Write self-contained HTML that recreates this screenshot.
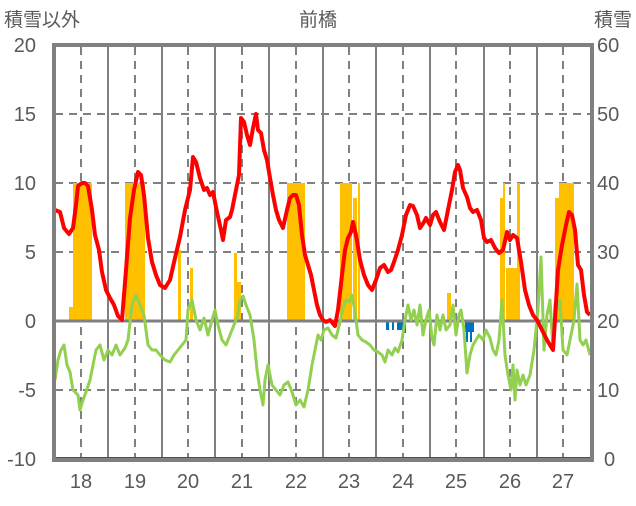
<!DOCTYPE html><html><head><meta charset="utf-8"><style>body{margin:0;background:#fff}svg text{font-family:"Liberation Sans","Noto Sans CJK JP",sans-serif;fill:#595959}</style></head><body>
<svg width="636" height="501" viewBox="0 0 636 501">
<g font-size="19">
<text x="4" y="26">積雪以外</text><text x="318" y="26" text-anchor="middle">前橋</text><text x="632" y="26" text-anchor="end">積雪</text>
</g>
<g font-size="20" text-anchor="end">
<text x="36" y="52">20</text><text x="36" y="121">15</text><text x="36" y="190">10</text><text x="36" y="259">5</text><text x="36" y="328">0</text><text x="36" y="397">-5</text><text x="36" y="466">-10</text>
</g>
<g font-size="20">
<text x="597" y="52">60</text><text x="597" y="121">50</text><text x="597" y="190">40</text><text x="597" y="259">30</text><text x="597" y="328">20</text><text x="597" y="397">10</text><text x="604" y="466">0</text>
</g>
<g font-size="20" text-anchor="middle">
<text x="81" y="488">18</text><text x="135" y="488">19</text><text x="188" y="488">20</text><text x="242" y="488">21</text><text x="296" y="488">22</text><text x="349" y="488">23</text><text x="403" y="488">24</text><text x="456" y="488">25</text><text x="510" y="488">26</text><text x="563" y="488">27</text>
</g>
<g stroke="#808080" stroke-width="2" stroke-dasharray="8,6">
<line x1="55" y1="114" x2="590" y2="114"/><line x1="55" y1="183" x2="590" y2="183"/><line x1="55" y1="252" x2="590" y2="252"/><line x1="55" y1="390" x2="590" y2="390"/>
<line x1="81" y1="47" x2="81" y2="458"/><line x1="135" y1="47" x2="135" y2="458"/><line x1="188" y1="47" x2="188" y2="458"/><line x1="242" y1="47" x2="242" y2="458"/><line x1="296" y1="47" x2="296" y2="458"/><line x1="349" y1="47" x2="349" y2="458"/><line x1="403" y1="47" x2="403" y2="458"/><line x1="456" y1="47" x2="456" y2="458"/><line x1="510" y1="47" x2="510" y2="458"/><line x1="563" y1="47" x2="563" y2="458"/>
</g>
<g stroke="#808080" stroke-width="2">
<line x1="108" y1="47" x2="108" y2="458"/><line x1="162" y1="47" x2="162" y2="458"/><line x1="215" y1="47" x2="215" y2="458"/><line x1="269" y1="47" x2="269" y2="458"/><line x1="323" y1="47" x2="323" y2="458"/><line x1="376" y1="47" x2="376" y2="458"/><line x1="430" y1="47" x2="430" y2="458"/><line x1="484" y1="47" x2="484" y2="458"/><line x1="537" y1="47" x2="537" y2="458"/>
</g>
<g fill="#FFC000">
<rect x="69" y="307" width="4" height="14"/><rect x="73" y="183" width="19" height="138"/>
<rect x="125" y="183" width="20" height="138"/><rect x="178" y="250" width="3" height="71"/><rect x="190" y="268" width="3" height="53"/>
<rect x="234" y="253" width="3" height="68"/><rect x="237" y="282" width="4" height="39"/>
<rect x="287" y="183" width="18" height="138"/><rect x="340" y="183" width="12" height="138"/><rect x="353" y="198" width="4" height="123"/><rect x="358" y="183" width="2" height="138"/>
<rect x="447" y="293" width="4" height="28"/><rect x="500" y="198" width="3" height="123"/><rect x="503" y="183" width="2" height="138"/><rect x="506" y="268" width="11" height="53"/><rect x="517" y="183" width="3" height="138"/><rect x="555" y="198" width="4" height="123"/><rect x="559" y="183" width="15" height="138"/>
</g>
<g fill="#0070C0">
<rect x="386" y="321" width="3" height="9"/><rect x="392" y="321" width="2" height="9"/><rect x="397" y="321" width="9" height="9"/><rect x="404" y="321" width="2" height="12"/><rect x="465" y="321" width="9" height="11"/><rect x="466" y="330" width="2" height="12"/><rect x="470" y="330" width="2" height="12"/>
</g>
<line x1="55" y1="321" x2="590" y2="321" stroke="#808080" stroke-width="3"/>
<polyline fill="none" stroke="#92D050" stroke-width="3" stroke-linejoin="round" points="55,380 58,360 61,350 64,345 67,365 70,372 73,390 78,395 80,410 83,400 86,392 90,380 93,365 96,350 100,345 104,360 108,350 112,355 116,345 120,355 125,348 128,340 132,305 136,295 140,305 144,315 148,345 152,350 156,350 160,355 165,360 170,362 174,355 178,350 182,345 186,340 188,310 192,300 196,320 200,330 204,318 208,335 212,320 215,310 218,325 222,340 226,345 230,335 234,325 238,315 240,300 243,296 246,305 250,315 254,340 257,370 260,390 263,405 265,380 268,365 272,385 276,390 280,395 284,385 288,382 292,392 296,405 300,400 304,407 308,390 312,365 315,350 318,335 321,340 324,330 328,328 332,335 336,338 340,322 343,308 346,300 349,302 352,295 355,312 358,335 362,340 366,342 370,345 374,350 378,352 382,355 385,362 388,350 392,355 395,348 398,352 402,340 405,320 408,305 411,320 414,310 417,325 420,305 423,335 426,320 429,310 432,338 434,345 437,315 440,330 443,315 446,330 450,325 453,305 456,335 459,315 461,310 464,330 467,373 470,355 473,345 476,340 479,335 483,340 486,330 490,338 493,350 496,355 499,340 502,300 505,355 508,375 511,390 513,365 515,400 517,370 520,385 523,375 526,385 530,375 534,350 538,310 541,257 544,350 547,315 550,300 553,350 555,305 557,310 560,300 563,350 567,355 571,335 574,320 577,284 580,340 583,345 586,340 590,355"/>
<polyline fill="none" stroke="#FF0000" stroke-width="4" stroke-linejoin="round" points="55,210 60,212 64,228 69,234 73,228 76,205 78,186 82,183 85,183 88,186 92,210 95,235 99,250 102,272 106,290 110,298 114,305 118,316 122,320 126,270 130,218 134,190 138,172 141,175 144,195 148,238 152,262 156,275 160,285 165,288 170,280 175,258 180,237 185,210 190,190 193,157 196,162 200,178 204,190 207,188 210,195 213,192 217,212 221,230 223,240 226,220 230,217 232,210 236,190 239,175 241,118 244,122 247,135 250,145 253,128 256,114 258,130 261,133 264,150 267,160 270,178 273,195 276,210 279,220 283,228 287,210 290,198 293,195 296,195 299,205 302,235 305,255 308,265 311,275 314,290 317,305 320,315 323,320 326,322 330,320 335,326 338,310 342,275 345,250 348,238 351,232 353,222 356,235 360,260 364,275 368,285 372,290 376,280 380,268 384,265 388,272 391,270 394,262 398,250 402,235 406,215 410,205 413,206 417,215 420,228 424,222 426,218 430,225 433,215 436,212 440,222 444,230 448,210 452,190 455,172 458,165 460,170 463,188 467,197 470,208 473,212 477,210 481,220 484,238 487,242 491,240 495,248 499,253 503,250 507,232 510,240 513,235 517,238 521,262 525,290 529,305 533,315 537,320 542,330 547,340 550,345 553,350 554,335 558,270 562,245 566,225 569,212 572,215 575,230 578,265 581,270 584,295 587,312 590,315"/>
<line x1="55" y1="459" x2="590" y2="459" stroke="#7030A0" stroke-width="4"/>
<rect x="54" y="45" width="538" height="415" fill="none" stroke="#808080" stroke-width="4"/>
</svg></body></html>
